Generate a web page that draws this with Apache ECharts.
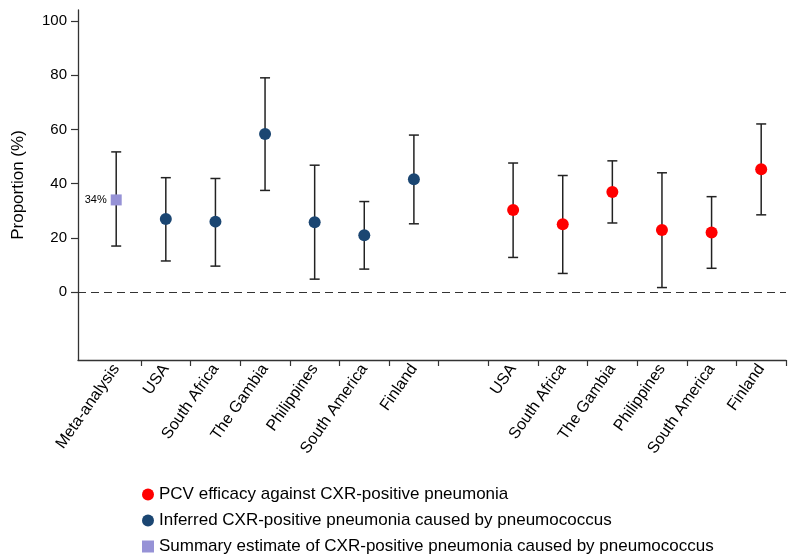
<!DOCTYPE html>
<html>
<head>
<meta charset="utf-8">
<script src="https://cdn.jsdelivr.net/npm/echarts@6/dist/echarts.min.js"></script>
<style>html,body{margin:0;padding:0;background:#fff}#c{width:791px;height:559px}</style>
</head>
<body>
<div id="c"></div>
<script>
const categories = ['Meta-analysis','USA','South Africa','The Gambia','Philippines','South America','Finland','','USA','South Africa','The Gambia','Philippines','South America','Finland'];
const yTicks = [0, 20, 40, 60, 80, 100];

// Summary estimate (position 1)
const summaryPos = [1];
const summaryMid = [34];
const summaryLow = [17];
const summaryHigh = [51.7];

// Inferred CXR-positive pneumonia caused by pneumococcus (positions 2-7)
const inferredPos = [2, 3, 4, 5, 6, 7];
const inferredMid = [27, 26, 58.3, 25.8, 21, 41.6];
const inferredLow = [11.5, 9.6, 37.5, 4.8, 8.5, 25.2];
const inferredHigh = [42.2, 41.9, 79, 46.8, 33.4, 57.9];

// PCV efficacy against CXR-positive pneumonia (positions 9-14)
const pcvPos = [9, 10, 11, 12, 13, 14];
const pcvMid = [30.3, 25, 36.9, 22.9, 22, 45.3];
const pcvLow = [12.8, 6.9, 25.5, 1.7, 8.8, 28.5];
const pcvHigh = [47.6, 43, 48.4, 44, 35.2, 62];

function pts(pos, mid) { return pos.map((p, i) => [p, mid[i]]); }
function bars(pos, low, high) { return pos.map((p, i) => [p, low[i], high[i]]); }

const errData = [].concat(
  bars(summaryPos, summaryLow, summaryHigh),
  bars(inferredPos, inferredLow, inferredHigh),
  bars(pcvPos, pcvLow, pcvHigh)
);

const labelPositions = categories.map((c, i) => i + 1).filter(v => categories[v - 1] !== '');
const tickPositions = categories.map((c, i) => i + 1.5);

const chart = echarts.init(document.getElementById('c'));
const font = 'Liberation Sans, Arial, Helvetica, sans-serif';
chart.setOption({
  animation: false,
  textStyle: { fontFamily: font },
  grid: { left: 78, right: 5, top: 10, bottom: 199 },
  xAxis: {
    type: 'value', min: 0.23, max: 14.5,
    axisLine: { show: true, onZero: false, lineStyle: { color: '#333', width: 1.3 } },
    axisTick: { show: true, length: 6, customValues: tickPositions, lineStyle: { color: '#333', width: 1.2 } },
    axisLabel: {
      customValues: labelPositions, rotate: 55, margin: 6,
      fontSize: 16, color: '#000', fontFamily: font,
      formatter: v => categories[Math.round(v) - 1] || ''
    },
    splitLine: { show: false }
  },
  yAxis: {
    type: 'value', min: -25, max: 104,
    name: 'Proportion (%)', nameLocation: 'middle', nameGap: 51,
    nameTextStyle: { fontSize: 17, color: '#000', fontFamily: font },
    axisLine: { show: true, lineStyle: { color: '#333', width: 1.3 } },
    axisTick: { show: true, length: 7, customValues: yTicks, lineStyle: { color: '#333', width: 1.2 } },
    axisLabel: { customValues: yTicks, fontSize: 15, color: '#000', margin: 11, fontFamily: font },
    splitLine: { show: false }
  },
  legend: {
    orient: 'vertical', left: 137, top: 481, itemGap: 9,
    itemWidth: 12, itemHeight: 12, height: 80,
    textStyle: { fontSize: 17, color: '#000', fontFamily: font },
    data: [
      { name: 'PCV efficacy against CXR-positive pneumonia', icon: 'circle' },
      { name: 'Inferred CXR-positive pneumonia caused by pneumococcus', icon: 'circle' },
      { name: 'Summary estimate of CXR-positive pneumonia caused by pneumococcus', icon: 'rect' }
    ]
  },
  series: [
    {
      type: 'custom', name: 'err', z: 2, silent: true,
      data: errData,
      renderItem: function (params, api) {
        const x = api.value(0);
        const lo = api.coord([x, api.value(1)]);
        const hi = api.coord([x, api.value(2)]);
        const w = 5;
        const st = { stroke: '#222', lineWidth: 1.5 };
        return {
          type: 'group',
          children: [
            { type: 'line', shape: { x1: lo[0], y1: lo[1], x2: hi[0], y2: hi[1] }, style: st },
            { type: 'line', shape: { x1: lo[0] - w, y1: lo[1], x2: lo[0] + w, y2: lo[1] }, style: st },
            { type: 'line', shape: { x1: hi[0] - w, y1: hi[1], x2: hi[0] + w, y2: hi[1] }, style: st }
          ]
        };
      },
      markLine: {
        silent: true, symbol: 'none', label: { show: false },
        lineStyle: { type: [8, 5], color: '#333', width: 1.2 },
        data: [{ yAxis: 0 }]
      }
    },
    {
      type: 'scatter', name: 'PCV efficacy against CXR-positive pneumonia', z: 5,
      symbol: 'circle', symbolSize: 12,
      itemStyle: { color: '#ff0000', opacity: 1 },
      data: pts(pcvPos, pcvMid)
    },
    {
      type: 'scatter', name: 'Inferred CXR-positive pneumonia caused by pneumococcus', z: 5,
      symbol: 'circle', symbolSize: 12,
      itemStyle: { color: '#1b4672', opacity: 1 },
      data: pts(inferredPos, inferredMid)
    },
    {
      type: 'scatter', name: 'Summary estimate of CXR-positive pneumonia caused by pneumococcus', z: 5,
      symbol: 'rect', symbolSize: 11,
      itemStyle: { color: '#9692d6', opacity: 1 },
      label: {
        show: true, position: 'left', distance: 4, fontSize: 11, color: '#000', fontFamily: font,
        formatter: p => Math.round(p.value[1]) + '%'
      },
      data: pts(summaryPos, summaryMid)
    }
  ]
});
</script>
</body>
</html>
